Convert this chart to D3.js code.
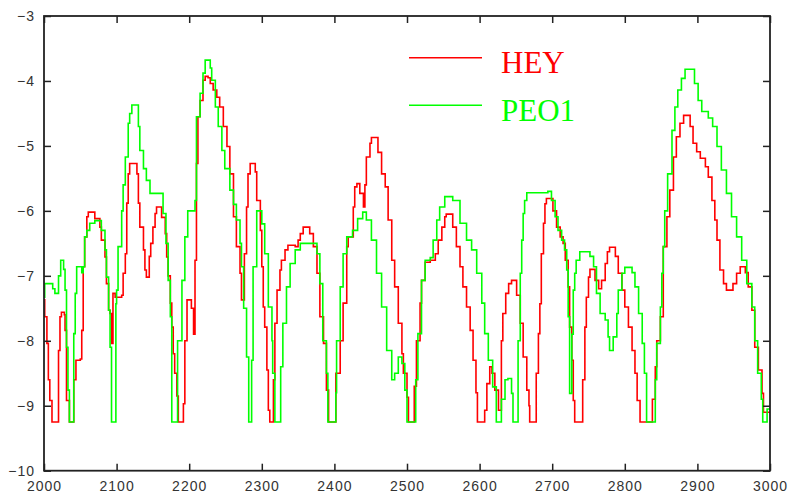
<!DOCTYPE html>
<html>
<head>
<meta charset="utf-8">
<script src="https://cdn.jsdelivr.net/npm/d3@7"></script>
<style>
  body { margin: 0; background: #fff; }
  .tick text { font-family: "Liberation Sans", Arial, sans-serif; font-size: 14px; fill: #333; letter-spacing: 1px; }
</style>
</head>
<body>
<script>
"use strict";

// HEY series [x, value]
var hey = [
  [2000, -7.37], [2001, -7.63], [2004, -8.04], [2006, -8.6], [2008, -8.92], [2011, -9.25],
  [2020, -8.15], [2022, -7.63], [2024, -7.56], [2028, -7.6], [2029, -7.84], [2031, -8.92],
  [2035, -9.25], [2041, -8.6], [2044, -8.3], [2050, -8.28], [2052, -7.84], [2054, -6.86],
  [2056, -6.4], [2059, -6.09], [2061, -6.02], [2066, -6.02], [2070, -6.12], [2077, -6.25],
  [2079, -6.45], [2084, -6.71], [2086, -7.12], [2089, -7.53], [2091, -7.58], [2093, -8.04],
  [2095, -7.27], [2098, -7.33], [2107, -7.3], [2109, -6.96], [2112, -6.66], [2114, -5.88],
  [2116, -5.43], [2118, -5.27], [2125, -5.27], [2128, -5.43], [2130, -5.88], [2132, -6.25],
  [2137, -6.6], [2139, -6.91], [2141, -7.02], [2145, -6.7], [2147, -6.5], [2150, -6.25],
  [2153, -6.04], [2155, -5.94], [2160, -5.94], [2162, -6.1], [2167, -6.35], [2169, -6.71],
  [2171, -7.0], [2174, -7.42], [2176, -7.79], [2178, -8.2], [2180, -8.5], [2183, -8.85],
  [2185, -9.25], [2192, -8.97], [2194, -8.0], [2197, -7.37], [2203, -7.5], [2206, -7.9],
  [2208, -6.76], [2210, -5.27], [2212, -4.55], [2215, -4.3], [2219, -3.99], [2222, -3.93],
  [2226, -3.95], [2229, -4.04], [2233, -4.14], [2238, -4.25], [2242, -4.4], [2247, -4.7],
  [2252, -5.01], [2256, -5.43], [2261, -6.09], [2265, -6.55], [2270, -6.96], [2272, -7.37],
  [2276, -6.66], [2279, -5.94], [2281, -5.43], [2284, -5.27], [2288, -5.27], [2291, -5.4],
  [2293, -5.84], [2298, -6.3], [2300, -6.86], [2302, -7.48], [2304, -7.79], [2307, -8.45],
  [2309, -9.07], [2311, -9.25], [2316, -8.6], [2318, -7.73], [2321, -7.22], [2325, -6.91],
  [2327, -6.76], [2332, -6.6], [2336, -6.53], [2346, -6.55], [2350, -6.45], [2353, -6.35],
  [2357, -6.25], [2362, -6.25], [2366, -6.35], [2371, -6.55], [2376, -6.96], [2380, -7.63],
  [2385, -8.04], [2389, -8.76], [2392, -9.25], [2402, -8.5], [2408, -8.0], [2412, -7.42],
  [2417, -6.55], [2419, -6.4], [2424, -6.4], [2426, -5.94], [2428, -5.63], [2431, -5.58],
  [2435, -5.73], [2440, -5.94], [2442, -5.6], [2444, -5.17], [2449, -4.96], [2451, -4.87],
  [2456, -4.87], [2460, -5.1], [2465, -5.43], [2470, -5.63], [2474, -6.14], [2479, -6.76],
  [2483, -7.17], [2488, -7.73], [2493, -8.2], [2495, -8.5], [2500, -8.87], [2502, -9.25],
  [2510, -8.7], [2513, -8.0], [2518, -7.42], [2520, -7.07], [2525, -6.79], [2532, -6.76],
  [2539, -6.66], [2543, -6.45], [2548, -6.25], [2552, -6.09], [2554, -6.05], [2559, -6.05],
  [2563, -6.25], [2568, -6.55], [2573, -6.86], [2577, -7.17], [2582, -7.48], [2587, -7.84],
  [2591, -8.3], [2595, -8.8], [2597, -9.25], [2607, -9.07], [2610, -8.66], [2614, -8.4],
  [2617, -8.5], [2621, -8.76], [2626, -9.07], [2630, -8.0], [2632, -7.58], [2636, -7.27],
  [2640, -7.12], [2644, -7.07], [2649, -7.07], [2651, -7.3], [2656, -7.73], [2660, -8.25],
  [2665, -8.76], [2668, -9.0], [2669, -9.25], [2678, -8.5], [2681, -7.89], [2683, -7.43],
  [2685, -6.66], [2688, -6.19], [2690, -5.89], [2692, -5.81], [2697, -5.81], [2701, -6.0],
  [2706, -6.25], [2711, -6.4], [2715, -6.5], [2718, -6.76], [2722, -7.17], [2724, -7.79],
  [2727, -8.3], [2729, -8.92], [2731, -9.25], [2742, -8.6], [2745, -7.79], [2747, -7.33],
  [2750, -7.02], [2752, -6.9], [2757, -6.9], [2759, -7.07], [2764, -7.2], [2768, -7.07],
  [2773, -6.81], [2776, -6.63], [2779, -6.56], [2783, -6.56], [2787, -6.7], [2791, -6.96],
  [2796, -7.22], [2800, -7.48], [2805, -7.79], [2810, -8.15], [2814, -8.5], [2817, -8.92],
  [2821, -9.25], [2838, -8.9], [2842, -8.4], [2844, -8.0], [2849, -7.63], [2853, -6.55],
  [2858, -6.09], [2862, -5.68], [2867, -5.17], [2871, -4.86], [2876, -4.65], [2881, -4.53],
  [2885, -4.53], [2890, -4.7], [2894, -4.96], [2899, -5.09], [2904, -5.19], [2911, -5.32],
  [2915, -5.48], [2920, -5.84], [2924, -6.14], [2927, -6.45], [2931, -6.91], [2936, -7.12],
  [2940, -7.22], [2945, -7.22], [2949, -7.12], [2954, -6.96], [2959, -6.86], [2963, -6.86],
  [2966, -6.95], [2970, -7.17], [2975, -7.53], [2979, -8.1], [2984, -8.45], [2989, -8.81],
  [2991, -9.1], [3000, -9.1]
];

// PEO1 series [x, value]
var peo1 = [
  [2000, -7.33], [2001, -7.12], [2011, -7.12], [2012, -7.2], [2015, -7.27], [2020, -7.0],
  [2023, -6.76], [2027, -6.9], [2029, -7.22], [2031, -8.1], [2033, -8.76], [2035, -9.25],
  [2041, -7.89], [2043, -7.27], [2045, -6.86], [2050, -6.86], [2052, -6.95], [2054, -6.86],
  [2056, -6.4], [2059, -6.3], [2063, -6.19], [2070, -6.15], [2075, -6.15], [2079, -6.3],
  [2084, -6.6], [2086, -7.02], [2089, -7.53], [2091, -8.1], [2093, -9.25], [2099, -7.43],
  [2100, -7.22], [2102, -6.55], [2107, -6.0], [2109, -5.6], [2112, -5.17], [2116, -4.65],
  [2118, -4.5], [2121, -4.37], [2128, -4.37], [2130, -4.7], [2132, -5.07], [2137, -5.35],
  [2141, -5.53], [2146, -5.73], [2160, -5.73], [2164, -6.04], [2168, -6.5], [2171, -7.07],
  [2174, -7.63], [2176, -9.25], [2184, -8.0], [2190, -7.07], [2194, -6.4], [2198, -6.0],
  [2205, -6.0], [2208, -5.84], [2210, -4.55], [2215, -4.19], [2219, -3.88], [2222, -3.68],
  [2226, -3.68], [2229, -3.8], [2231, -3.99], [2236, -4.4], [2240, -4.7], [2245, -5.07],
  [2249, -5.35], [2256, -5.68], [2261, -5.9], [2265, -6.14], [2270, -6.5], [2272, -6.86],
  [2275, -7.5], [2279, -8.25], [2282, -9.25], [2286, -8.3], [2288, -6.86], [2293, -6.0],
  [2298, -6.0], [2300, -6.2], [2304, -6.66], [2309, -7.48], [2314, -8.0], [2315, -8.5],
  [2318, -9.25], [2326, -8.4], [2329, -7.73], [2334, -7.17], [2339, -6.81], [2346, -6.6],
  [2353, -6.5], [2371, -6.5], [2376, -6.66], [2380, -7.12], [2384, -8.0], [2389, -8.5],
  [2391, -9.25], [2402, -8.8], [2403, -8.0], [2408, -7.17], [2412, -6.66], [2417, -6.4],
  [2425, -6.3], [2432, -6.12], [2439, -6.02], [2444, -6.14], [2451, -6.45], [2458, -6.96],
  [2465, -7.48], [2472, -8.15], [2479, -8.6], [2483, -8.5], [2488, -8.25], [2493, -8.35],
  [2497, -8.76], [2500, -9.25], [2512, -8.6], [2515, -7.89], [2520, -7.07], [2525, -6.76],
  [2532, -6.72], [2536, -6.45], [2541, -6.14], [2545, -5.94], [2552, -5.78], [2559, -5.78],
  [2563, -5.84], [2573, -6.19], [2582, -6.45], [2589, -6.6], [2596, -6.96], [2603, -7.42],
  [2607, -7.89], [2612, -8.3], [2618, -8.71], [2623, -9.25], [2630, -8.9], [2635, -8.6],
  [2639, -8.58], [2644, -8.81], [2646, -9.25], [2653, -8.0], [2656, -6.96], [2658, -6.45],
  [2660, -6.04], [2662, -5.84], [2665, -5.72], [2694, -5.7], [2699, -5.84], [2704, -6.09],
  [2708, -6.3], [2713, -6.45], [2717, -6.6], [2720, -6.91], [2722, -7.63], [2724, -8.81],
  [2727, -7.9], [2729, -7.22], [2731, -6.96], [2733, -6.76], [2738, -6.63], [2747, -6.63],
  [2752, -6.7], [2757, -6.86], [2761, -7.27], [2766, -7.58], [2773, -7.68], [2777, -7.94],
  [2779, -8.15], [2784, -7.94], [2789, -7.58], [2791, -7.22], [2796, -6.96], [2800, -6.87],
  [2805, -6.87], [2810, -6.95], [2814, -7.17], [2819, -7.58], [2824, -8.04], [2827, -8.5],
  [2830, -9.25], [2842, -8.6], [2844, -8.04], [2849, -7.48], [2851, -6.96], [2853, -6.55],
  [2855, -6.0], [2859, -5.43], [2865, -4.76], [2869, -4.4], [2873, -4.14], [2878, -3.96],
  [2883, -3.82], [2890, -3.82], [2896, -4.04], [2901, -4.3], [2906, -4.47], [2915, -4.57],
  [2921, -4.7], [2927, -5.01], [2933, -5.37], [2940, -5.73], [2947, -6.09], [2954, -6.4],
  [2961, -6.76], [2968, -7.12], [2975, -7.48], [2979, -8.0], [2983, -8.5], [2988, -8.9],
  [2990, -9.25], [2996, -9.05], [3000, -9.05]
];

var xTicks = [2000, 2100, 2200, 2300, 2400, 2500, 2600, 2700, 2800, 2900, 3000];
var yTicks = [-10, -9, -8, -7, -6, -5, -4, -3];
var seriesNames = ["HEY", "PEO1"];
var seriesColors = ["#ff0000", "#00ff00"];

var width = 793, height = 499;
var margin = { left: 44, top: 16, right: 23, bottom: 28.3 };
var w = width - margin.left - margin.right;
var h = height - margin.top - margin.bottom;

var x = d3.scaleLinear().domain([2000, 3000]).range([0, w]);
var y = d3.scaleLinear().domain([-10, -3]).range([h, 0]);

var svg = d3.select("body").append("svg")
  .attr("width", width)
  .attr("height", height);

var g = svg.append("g")
  .attr("transform", "translate(" + margin.left + "," + margin.top + ")");

var line = d3.line()
  .x(function (d) { return x(d[0]); })
  .y(function (d) { return y(d[1]); })
  .curve(d3.curveStepAfter);

[hey, peo1].forEach(function (data, i) {
  g.append("path")
    .datum(data)
    .attr("fill", "none")
    .attr("stroke", seriesColors[i])
    .attr("stroke-width", 1.6)
    .attr("d", line);
});

// axes with ticks pointing inward on all four sides; only bottom and left get labels
g.append("g")
  .attr("transform", "translate(0," + h + ")")
  .call(d3.axisBottom(x).tickValues(xTicks).tickSize(-7).tickPadding(10).tickFormat(d3.format("d")));
g.append("g")
  .call(d3.axisLeft(y).tickValues(yTicks).tickSize(-7).tickPadding(9).tickFormat(d3.format("d")));
g.append("g")
  .attr("class", "nolabels")
  .call(d3.axisTop(x).tickValues(xTicks).tickSize(-7));
g.append("g")
  .attr("class", "nolabels")
  .attr("transform", "translate(" + w + ",0)")
  .call(d3.axisRight(y).tickValues(yTicks).tickSize(-7));

g.selectAll(".nolabels text").remove();
g.selectAll(".domain").remove();
g.selectAll(".tick line").attr("stroke", "#222").attr("stroke-width", 1.5);

g.append("rect")
  .attr("width", w)
  .attr("height", h)
  .attr("fill", "none")
  .attr("stroke", "#222")
  .attr("stroke-width", 1.8);

// legend
var legend = svg.append("g");
seriesNames.forEach(function (name, i) {
  var ly = 57.7 + i * 47.5;
  legend.append("line")
    .attr("x1", 409).attr("x2", 482)
    .attr("y1", ly).attr("y2", ly)
    .attr("stroke", seriesColors[i])
    .attr("stroke-width", 1.6);
  legend.append("text")
    .attr("x", 501)
    .attr("y", ly + 15.5)
    .attr("fill", seriesColors[i])
    .attr("font-family", "'Liberation Serif', 'Times New Roman', serif")
    .attr("font-size", 31)
    .text(name);
});
</script>
</body>
</html>
